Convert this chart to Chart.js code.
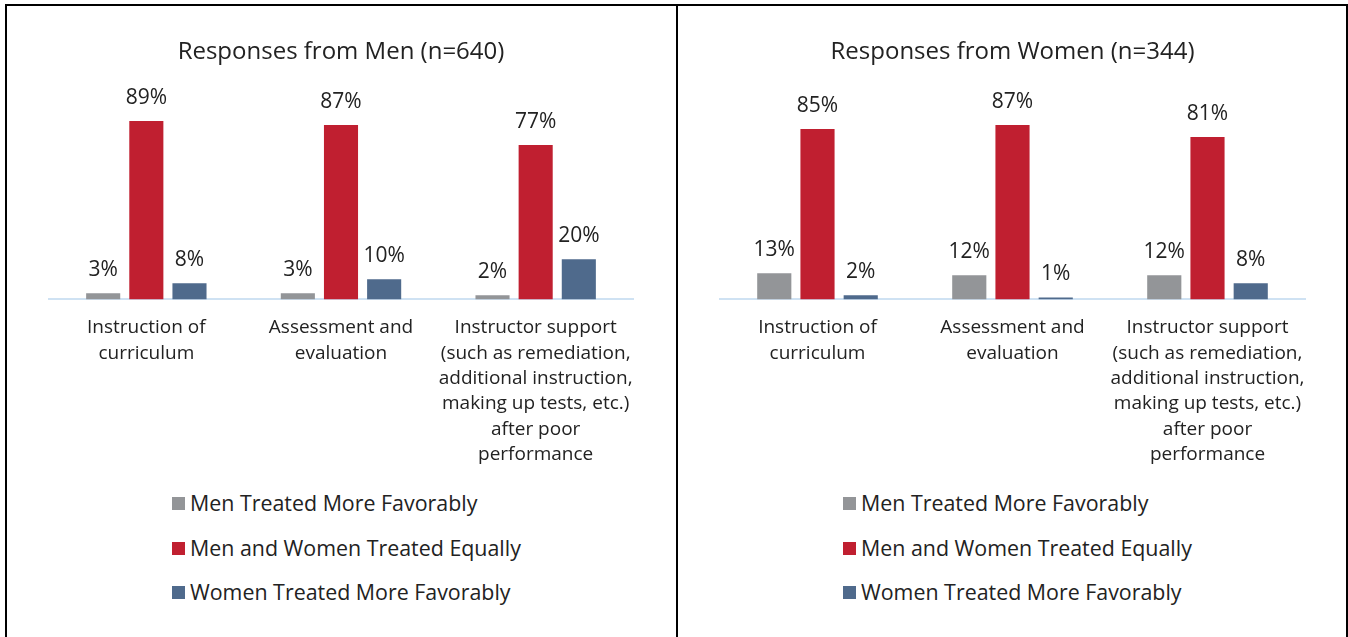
<!DOCTYPE html>
<html>
<head>
<meta charset="utf-8">
<script src="https://cdn.jsdelivr.net/npm/chart.js@4"></script>
<style>
	body { margin: 0; background: #ffffff; font-family: 'Open Sans', sans-serif; }
	.frame { position: absolute; left: 5px; top: 4px; width: 1339px; height: 640px; border-top: 2px solid #000; border-left: 2px solid #000; border-right: 2px solid #000; }
	.divider { position: absolute; left: 676px; top: 4px; width: 2px; height: 640px; background: #000; }
	.chart-box { position: absolute; top: 0; }
	.label-box { position: absolute; }
	.label-box .row { position: absolute; left: 0; white-space: nowrap; font-size: 21.4px; color: #222222; line-height: 24px; }
	.label-box .swatch { position: absolute; left: 0; top: 6px; width: 13px; height: 13px; }
	.label-box .text { position: absolute; top: 0; }
</style>
</head>
<body>
<div class="frame"></div>
<div class="divider"></div>
<div class="chart-box" style="left:6px"><canvas id="men_chart" width="671" height="488"></canvas></div>
<div class="chart-box" style="left:678px"><canvas id="women_chart" width="668" height="488"></canvas></div>
<div class="label-box" id="men_legend" style="left:172px; top:491px"></div>
<div class="label-box" id="women_legend" style="left:843px; top:491px"></div>
<script>
// 데이터
var categories = [
	['Instruction of', 'curriculum'],
	['Assessment and', 'evaluation'],
	['Instructor support', '(such as remediation,', 'additional instruction,', 'making up tests, etc.)', 'after poor', 'performance']
];
var seriesNames = ['Men Treated More Favorably', 'Men and Women Treated Equally', 'Women Treated More Favorably'];
var seriesColors = ['#939598', '#c01f30', '#4f6a8c'];

var menTitle = 'Responses from Men (n=640)';
var menFavorMen = [3, 3, 2];
var menEqual = [89, 87, 77];
var menFavorWomen = [8, 10, 20];

var womenTitle = 'Responses from Women (n=344)';
var womenFavorMen = [13, 12, 12];
var womenEqual = [85, 87, 81];
var womenFavorWomen = [2, 1, 8];

Chart.defaults.font.family = "'Open Sans', sans-serif";
Chart.defaults.color = '#222222';

// 막대 위 값 표시
var barValuePlugin = {
	id: 'barValue',
	afterDatasetsDraw(chart) {
		var ctx = chart.ctx;
		ctx.save();
		ctx.font = "21px 'Open Sans'";
		ctx.fillStyle = '#222222';
		ctx.textAlign = 'center';
		ctx.textBaseline = 'alphabetic';
		chart.data.datasets.forEach((dataset, i) => {
			chart.getDatasetMeta(i).data.forEach((bar, j) => {
				ctx.fillText(dataset.data[j] + '%', bar.x, bar.y - 17);
			});
		});
		ctx.restore();
	}
};

function makeChart(canvasId, legendId, title, values, pad) {
	var chart = new Chart(document.getElementById(canvasId), {
		type: 'bar',
		data: {
			labels: categories,
			datasets: values.map((data, i) => ({
				label: seriesNames[i],
				data: data,
				backgroundColor: seriesColors[i],
				categoryPercentage: 0.665,
				barPercentage: 0.79
			}))
		},
		options: {
			responsive: false,
			animation: false,
			plugins: {
				legend: { display: false },
				tooltip: { enabled: false },
				title: {
					display: true,
					text: title,
					color: '#222222',
					font: { size: 24, weight: '400' },
					padding: { top: 37.6, bottom: 32.6 }
				}
			},
			layout: {
				padding: { left: pad[0], right: pad[1], bottom: 5 }
			},
			scales: {
				x: {
					grid: { display: false, drawTicks: false },
					border: { color: '#cfe2f3', width: 2 },
					ticks: {
						padding: 16,
						color: '#222222',
						font: { size: 19, lineHeight: 1.33 },
						maxRotation: 0,
						autoSkip: false
					}
				},
				y: {
					display: false,
					min: 0,
					max: 100
				}
			}
		},
		plugins: [barValuePlugin]
	});

	// 범례 (세로 목록)
	var box = document.getElementById(legendId);
	chart.data.datasets.forEach((dataset, i) => {
		var row = document.createElement('div');
		row.className = 'row';
		row.style.top = (i * 44.5) + 'px';
		row.innerHTML = '<span class="swatch" style="background:' + dataset.backgroundColor + '"></span>' +
			'<span class="text" style="left:18px">' + dataset.label + '</span>';
		box.appendChild(row);
	});
	return chart;
}

var menChart = makeChart('men_chart', 'men_legend', menTitle, [menFavorMen, menEqual, menFavorWomen], [43, 44]);
var womenChart = makeChart('women_chart', 'women_legend', womenTitle, [womenFavorMen, womenEqual, womenFavorWomen], [42, 41]);
</script>
</body>
</html>
